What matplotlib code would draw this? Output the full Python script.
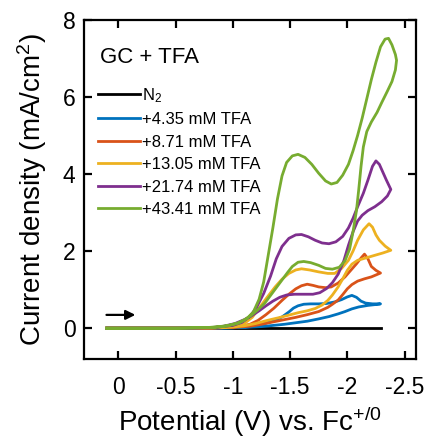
import matplotlib
matplotlib.use("Agg")
import matplotlib.pyplot as plt

plt.rcParams['font.family'] = ['Liberation Sans', 'DejaVu Sans']
plt.rcParams['mathtext.fontset'] = 'custom'
plt.rcParams['mathtext.rm'] = 'Liberation Sans'
plt.rcParams['mathtext.it'] = 'Liberation Sans:italic'
plt.rcParams['axes.unicode_minus'] = False

# CV scans: forward sweep to the switching potential, then back (V vs Fc+/0, mA/cm2)
v_n2 = [0.10, -2.29]
j_n2 = [0.0, 0.0]

v_435 = [0.10, -0.70, -1.00, -1.15, -1.25, -1.35, -1.43, -1.49, -1.53, -1.57, -1.62, -1.68,
         -1.75, -1.82, -1.89, -1.95, -2.00, -2.04, -2.08, -2.12, -2.16, -2.22, -2.29,
         -2.24, -2.18, -2.10, -2.04, -1.98, -1.92, -1.84, -1.75, -1.65, -1.55, -1.45,
         -1.35, -1.25, -1.10, -0.90, 0.10]
j_435 = [0.00, 0.00, 0.01, 0.04, 0.10, 0.18, 0.29, 0.42, 0.52, 0.58, 0.62, 0.63,
         0.63, 0.64, 0.68, 0.74, 0.81, 0.85, 0.80, 0.70, 0.65, 0.63, 0.63,
         0.61, 0.59, 0.55, 0.50, 0.43, 0.37, 0.30, 0.24, 0.18, 0.14, 0.10,
         0.07, 0.04, 0.02, 0.00, 0.00]

v_871 = [0.10, -0.60, -0.90, -1.05, -1.15, -1.22, -1.29, -1.36, -1.43, -1.49, -1.55, -1.60,
         -1.65, -1.70, -1.75, -1.81, -1.86, -1.92, -1.98, -2.03, -2.08, -2.12, -2.15,
         -2.18, -2.21, -2.25, -2.29,
         -2.25, -2.21, -2.15, -2.09, -2.04, -2.00, -1.96, -1.92, -1.87, -1.83, -1.75,
         -1.65, -1.55, -1.45, -1.35, -1.25, -1.15, -1.00, -0.80, 0.10]
j_871 = [0.00, 0.00, 0.01, 0.04, 0.10, 0.20, 0.35, 0.52, 0.72, 0.88, 1.02, 1.10,
         1.14, 1.11, 1.07, 1.05, 1.07, 1.17, 1.33, 1.50, 1.67, 1.82, 1.92,
         1.80, 1.60, 1.50, 1.43,
         1.38, 1.33, 1.28, 1.22, 1.13, 1.02, 0.87, 0.73, 0.62, 0.54, 0.43,
         0.35, 0.28, 0.22, 0.16, 0.10, 0.05, 0.02, 0.00, 0.00]

v_1305 = [0.10, -0.60, -0.85, -1.00, -1.10, -1.17, -1.23, -1.30, -1.37, -1.43, -1.49, -1.55,
          -1.60, -1.67, -1.75, -1.83, -1.89, -1.95, -2.01, -2.05, -2.09, -2.14, -2.19,
          -2.22, -2.25, -2.28, -2.33, -2.38,
          -2.31, -2.24, -2.16, -2.09, -2.04, -2.00, -1.96, -1.92, -1.87, -1.83, -1.78,
          -1.72, -1.65, -1.57, -1.48, -1.40, -1.30, -1.20, -1.10, -1.00, -0.80, -0.50, 0.10]
j_1305 = [0.00, 0.00, 0.01, 0.04, 0.12, 0.28, 0.52, 0.80, 1.07, 1.27, 1.42, 1.51,
          1.54, 1.51, 1.46, 1.42, 1.42, 1.55, 1.76, 2.00, 2.28, 2.55, 2.71,
          2.62, 2.42, 2.28, 2.13, 2.02,
          1.95, 1.89, 1.82, 1.76, 1.66, 1.50, 1.28, 1.07, 0.86, 0.72, 0.60,
          0.51, 0.45, 0.40, 0.33, 0.27, 0.20, 0.12, 0.06, 0.03, 0.01, 0.00, 0.00]

v_2174 = [0.10, -0.60, -0.85, -1.00, -1.08, -1.15, -1.21, -1.27, -1.33, -1.38, -1.43, -1.49,
          -1.55, -1.60, -1.66, -1.72, -1.78, -1.84, -1.90, -1.96, -2.01, -2.05, -2.09,
          -2.14, -2.18, -2.22, -2.25, -2.28, -2.31, -2.34, -2.38,
          -2.35, -2.30, -2.24, -2.18, -2.13, -2.09, -2.05, -2.01, -1.97, -1.92, -1.87,
          -1.82, -1.76, -1.70, -1.62, -1.54, -1.47, -1.41, -1.35, -1.29, -1.23, -1.17,
          -1.10, -1.02, -0.92, -0.80, -0.50, 0.10]
j_2174 = [0.00, 0.00, 0.02, 0.07, 0.15, 0.30, 0.55, 0.90, 1.35, 1.80, 2.12, 2.33,
          2.42, 2.43, 2.37, 2.28, 2.21, 2.19, 2.24, 2.38, 2.60, 2.85, 3.15,
          3.50, 3.84, 4.20, 4.34, 4.25, 4.05, 3.85, 3.60,
          3.43, 3.28, 3.15, 3.05, 2.93, 2.78, 2.50, 2.15, 1.75, 1.40, 1.18,
          1.03, 0.92, 0.88, 0.88, 0.88, 0.86, 0.80, 0.70, 0.58, 0.45, 0.33,
          0.22, 0.12, 0.05, 0.01, 0.00, 0.00]

v_4341 = [0.10, -0.50, -0.80, -0.95, -1.05, -1.12, -1.18, -1.23, -1.27, -1.31, -1.35, -1.39,
          -1.43, -1.47, -1.52, -1.57, -1.63, -1.69, -1.75, -1.81, -1.86, -1.91, -1.96,
          -2.01, -2.05, -2.09, -2.13, -2.17, -2.21, -2.25, -2.29, -2.33, -2.36, -2.39,
          -2.42, -2.43,
          -2.42, -2.39, -2.35, -2.30, -2.26, -2.21, -2.17, -2.14, -2.12, -2.10, -2.08,
          -2.05, -2.02, -1.98, -1.93, -1.87, -1.81, -1.75, -1.68, -1.62, -1.57, -1.52,
          -1.48, -1.43, -1.38, -1.33, -1.28, -1.22, -1.16, -1.10, -1.04, -0.95, -0.85,
          -0.60, 0.10]
j_4341 = [0.00, 0.00, 0.02, 0.06, 0.13, 0.24, 0.42, 0.75, 1.20, 1.90, 2.60, 3.35,
          3.95, 4.30, 4.47, 4.51, 4.43, 4.25, 4.02, 3.82, 3.74, 3.78, 3.97,
          4.25, 4.60, 5.00, 5.45, 5.95, 6.45, 6.90, 7.30, 7.50, 7.52, 7.35,
          7.10, 6.95,
          6.70, 6.40, 6.15, 5.85, 5.60, 5.35, 5.10, 4.70, 4.20, 3.60, 3.05,
          2.50, 2.05, 1.75, 1.58, 1.53, 1.55, 1.63, 1.70, 1.73, 1.71, 1.60,
          1.45, 1.25, 1.05, 0.85, 0.65, 0.48, 0.33, 0.21, 0.13, 0.06, 0.02,
          0.00, 0.00]

labels = ['N$_2$', '+4.35 mM TFA', '+8.71 mM TFA', '+13.05 mM TFA',
          '+21.74 mM TFA', '+43.41 mM TFA']
colors = ['#000000', '#0072BD', '#D95319', '#EDB120', '#7E2F8E', '#77AC30']
xticks = [0, -0.5, -1, -1.5, -2, -2.5]
xtick_labels = ['0', '-0.5', '-1', '-1.5', '-2', '-2.5']
yticks = [0, 2, 4, 6, 8]

scans = [(v_n2, j_n2), (v_435, j_435), (v_871, j_871), (v_1305, j_1305),
         (v_2174, j_2174), (v_4341, j_4341)]

fig = plt.figure(figsize=(4.28, 4.41), dpi=100)
ax = fig.add_axes([0.196, 0.186, 0.776, 0.769])

for (v, j), lab, c in zip(scans, labels, colors):
    ax.plot(v, j, color=c, lw=2.0, label=lab, solid_joinstyle='round')

ax.set_xlim(0.3, -2.6)
ax.set_ylim(-0.8, 8)
ax.set_xticks(xticks)
ax.set_xticklabels(xtick_labels)
ax.set_yticks(yticks)

for s in ax.spines.values():
    s.set_linewidth(1.6)
ax.tick_params(direction='in', top=True, right=True, length=6, width=1.6,
               labelsize=16.5)
ax.tick_params(axis='x', pad=12)
ax.tick_params(axis='y', pad=6)

ax.set_xlabel('Potential (V) vs. Fc$^{+/0}$', fontsize=20, labelpad=4)
ax.set_ylabel('Current density (mA/cm$^2$)', fontsize=20, labelpad=10)

ax.text(0.048, 0.888, 'GC + TFA', transform=ax.transAxes, fontsize=16,
        va='center', ha='left')

ax.legend(loc='upper left', bbox_to_anchor=(0.043, 0.805), frameon=False,
          fontsize=12, handlelength=2.5, handletextpad=0.1,
          labelspacing=0.45, borderaxespad=0, borderpad=0)

# scan direction arrow
ax.annotate('', xy=(0.155, 0.13), xytext=(0.068, 0.13), xycoords='axes fraction',
            arrowprops=dict(arrowstyle='-|>', color='black', lw=1.6,
                            mutation_scale=14, shrinkA=0, shrinkB=0))

fig.savefig('out.png', dpi=100)
